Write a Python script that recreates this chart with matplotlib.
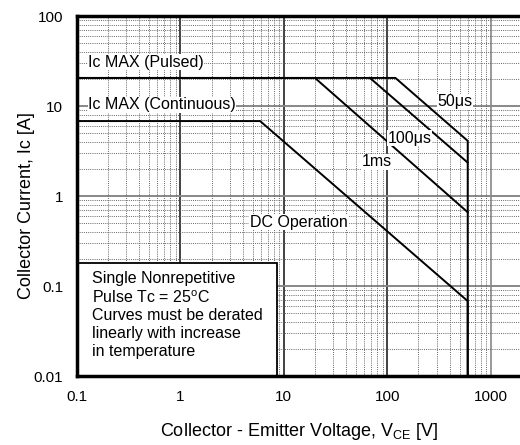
import matplotlib
matplotlib.use("Agg")
import matplotlib.pyplot as plt
from matplotlib.patches import Rectangle
from matplotlib.ticker import LogLocator, NullFormatter

plt.rcParams['font.family'] = ['Liberation Sans', 'DejaVu Sans']
plt.rcParams['mathtext.fontset'] = 'custom'
plt.rcParams['mathtext.rm'] = 'Liberation Sans'
plt.rcParams['mathtext.it'] = 'Liberation Sans:italic'

# safe operating area curves (Vce [V], Ic [A])
dc_v = [0.1, 5.9, 600, 600]
dc_i = [6.8, 6.8, 0.068, 0.01]
ms1_v = [0.1, 20, 600]
ms1_i = [20.5, 20.5, 0.66]
us100_v = [68, 600]
us100_i = [20.5, 2.35]
us50_v = [0.1, 120, 600, 600]
us50_i = [20.5, 20.5, 4.1, 0.01]

xticks = [0.1, 1, 10, 100, 1000]
xlabels = ["0.1", "1", "10", "100", "1000"]
yticks = [0.01, 0.1, 1, 10, 100]
ylabels = ["0.01", "0.1", "1", "10", "100"]

fig = plt.figure(figsize=(5.2, 4.45), dpi=100)
ax = fig.add_axes([77/520, 1-376/445, 463/520, 360/445])
ax.set_xscale("log"); ax.set_yscale("log")
ax.set_xlim(0.1, 3000); ax.set_ylim(0.01, 100)

ax.xaxis.set_minor_locator(LogLocator(base=10, subs=range(2, 10)))
ax.yaxis.set_minor_locator(LogLocator(base=10, subs=range(2, 10)))
ax.xaxis.set_minor_formatter(NullFormatter())
ax.yaxis.set_minor_formatter(NullFormatter())
ax.grid(which="minor", color="#666666", lw=0.7, ls=(0, (1, 1.2)))
for v in [1, 10, 100]:
    ax.axvline(v, color="#333333", lw=1.3, zorder=1)
ax.axvline(1000, color="#888888", lw=1.2, zorder=1)
for v in [0.1, 1, 10]:
    ax.axhline(v, color="#888888", lw=1.4, zorder=1)

ax.set_xticks(xticks); ax.set_xticklabels(xlabels, fontsize=11)
ax.set_yticks(yticks); ax.set_yticklabels(ylabels, fontsize=11)
ax.tick_params(which="both", length=0, pad=10)

kw = dict(color="black", lw=1.4, zorder=3)
ax.plot(dc_v, dc_i, **kw)
ax.plot(ms1_v, ms1_i, **kw)
ax.plot(us100_v, us100_i, **kw)
ax.plot(us50_v, us50_i, **kw)

for s in ax.spines.values():
    s.set_linewidth(2.5)
    s.set_zorder(6)

fs = 11.5
tb = dict(facecolor="white", edgecolor="none", pad=0.3)
ax.text(0.128, 30.8, "Ic MAX (Pulsed)", fontsize=fs, va="center", bbox=tb, zorder=4)
ax.text(0.128, 10.3, "Ic MAX (Continuous)", fontsize=fs, va="center", bbox=tb, zorder=4)
ax.text(307, 11.1, "50\u03bcs", fontsize=fs, va="center", bbox=tb, zorder=4)
ax.text(101, 4.4, "100\u03bcs", fontsize=fs, va="center", bbox=tb, zorder=4)
ax.text(57, 2.39, "1ms", fontsize=fs, va="center", bbox=tb, zorder=4)
ax.text(4.7, 0.514, "DC Operation", fontsize=fs, va="center", bbox=tb, zorder=4)

ax.add_patch(Rectangle((0, 0), 200/463, 113/360, transform=ax.transAxes,
                       facecolor="white", edgecolor="black", lw=1.3, zorder=5))
ax.text(15/463, 1 - 271/360 + 16/360,
        "Single Nonrepetitive\nPulse Tc = 25$^{\\mathrm{o}}$C\nCurves must be derated\nlinearly with increase\nin temperature",
        transform=ax.transAxes, fontsize=fs, va="top", ha="left", linespacing=1.22, zorder=6)

fig.text(299/520, 1-432/445, "Collector - Emitter Voltage, V$_{\\mathrm{CE}}$ [V]",
         fontsize=13, ha="center", va="center")
fig.text(27/520, 1-206/445, "Collector Current, Ic [A]", fontsize=13,
         rotation=90, ha="center", va="center")

fig.savefig("out.png", dpi=100)
